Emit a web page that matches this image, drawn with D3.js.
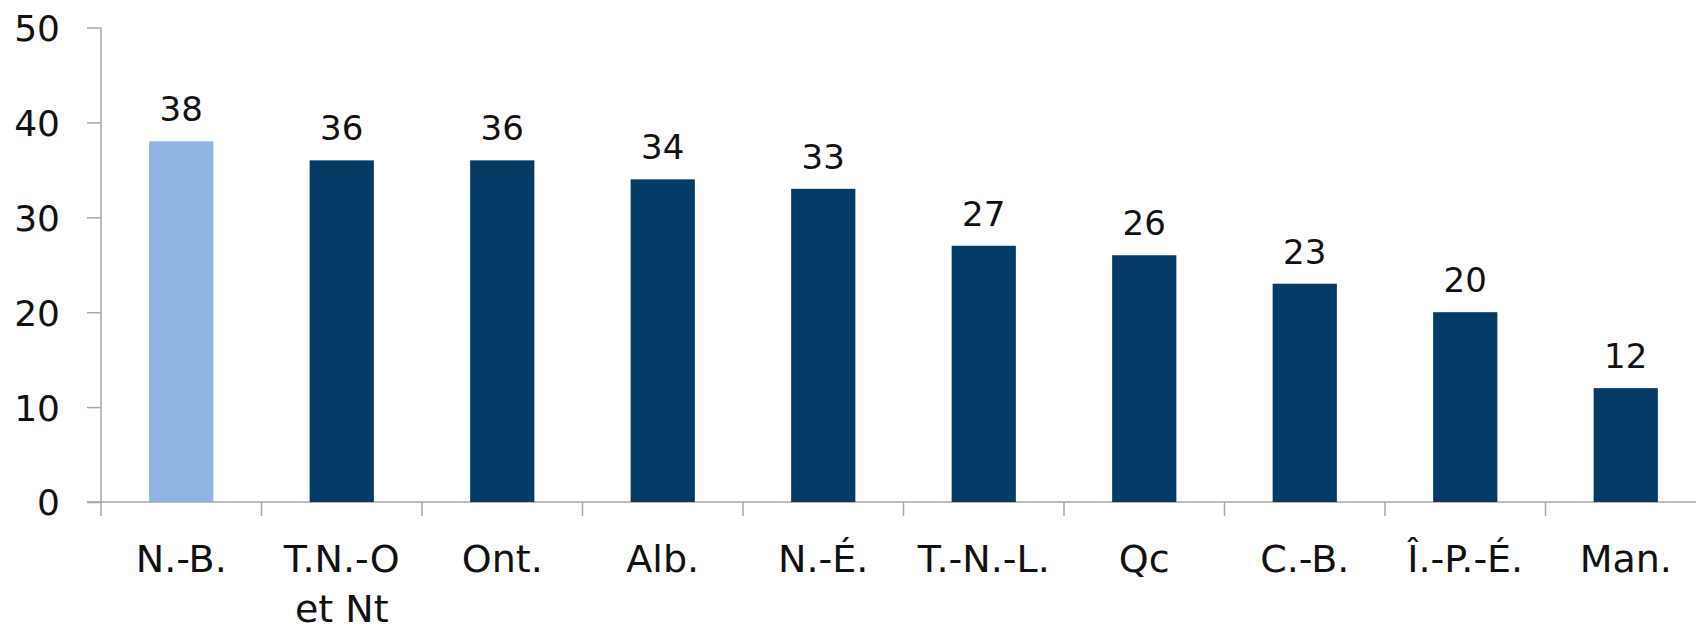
<!DOCTYPE html>
<html>
<head>
<meta charset="utf-8">
<script src="https://cdn.jsdelivr.net/npm/d3@7"></script>
<style>
  body { margin: 0; background: #fff; }
  text { font-family: "DejaVu Sans", sans-serif; fill: #111; }
</style>
</head>
<body>
<svg id="chart" width="1696" height="626"></svg>
<script>
const categories = ['N.-B.', 'T.N.-O|et Nt', 'Ont.', 'Alb.', 'N.-É.', 'T.-N.-L.', 'Qc', 'C.-B.', 'Î.-P.-É.', 'Man.']
const values = [38, 36, 36, 34, 33, 27, 26, 23, 20, 12]
const highlight = ['N.-B.']
const yTicks = [0, 10, 20, 30, 40, 50]

const svg = d3.select('#chart')
const mLeft = 101, mRight = 1706, mTop = 27.5, mBottom = 502

const x = d3.scaleBand().domain(categories).range([mLeft, mRight]).paddingInner(0.6).paddingOuter(0.3)
const y = d3.scaleLinear().domain([0, 50]).range([mBottom, mTop])
const bandStep = (mRight - mLeft) / categories.length

// y axis
const yAxis = svg.append('g').attr('transform', `translate(${mLeft},0)`)
  .call(d3.axisLeft(y).tickValues(yTicks).tickSize(14).tickPadding(27))
yAxis.select('.domain').attr('d', `M0,${mTop}V${mBottom}`)
yAxis.selectAll('line, .domain').attr('stroke', '#a6a6a6').attr('stroke-width', 1.5)
yAxis.selectAll('text').style('font-size', '36px').attr('dy', '0.36em').attr('fill', '#111')

// x axis baseline and category ticks
svg.append('line')
  .attr('x1', mLeft - 14).attr('x2', mRight).attr('y1', mBottom).attr('y2', mBottom)
  .attr('stroke', '#a6a6a6').attr('stroke-width', 1.5)
svg.append('g').selectAll('line').data(d3.range(categories.length + 1)).join('line')
  .attr('x1', i => mLeft + i * bandStep).attr('x2', i => mLeft + i * bandStep)
  .attr('y1', mBottom).attr('y2', mBottom + 14)
  .attr('stroke', '#a6a6a6').attr('stroke-width', 1.5)

// bars
svg.append('g').selectAll('rect').data(categories).join('rect')
  .attr('x', d => x(d)).attr('width', x.bandwidth())
  .attr('y', (d, i) => y(values[i])).attr('height', (d, i) => mBottom - y(values[i]))
  .attr('fill', d => highlight.includes(d) ? '#8fb4e2' : '#033b66')

// value labels
svg.append('g').selectAll('text').data(categories).join('text')
  .attr('x', d => x(d) + x.bandwidth() / 2)
  .attr('y', (d, i) => y(values[i]) - 20)
  .attr('text-anchor', 'middle')
  .style('font-size', '34px')
  .text((d, i) => values[i])

// category labels
const cat = svg.append('g').selectAll('text').data(categories).join('text')
  .attr('x', d => x(d) + x.bandwidth() / 2)
  .attr('y', 572)
  .attr('text-anchor', 'middle')
  .style('font-size', '38px')
cat.selectAll('tspan').data(d => d.split('|')).join('tspan')
  .attr('x', function() { return this.parentNode.getAttribute('x') })
  .attr('dy', (d, i) => i ? 50 : 0)
  .text(d => d)
</script>
</body>
</html>
